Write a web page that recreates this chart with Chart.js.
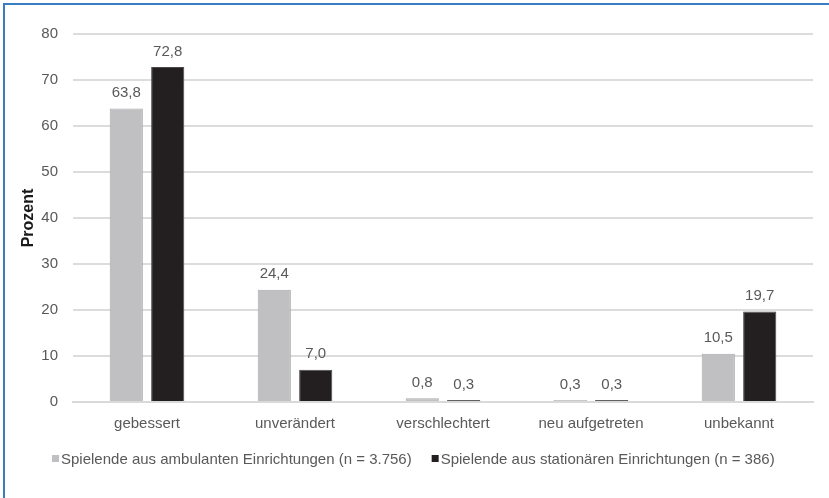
<!DOCTYPE html>
<html>
<head>
<meta charset="utf-8">
<script src="https://cdn.jsdelivr.net/npm/chart.js@4/dist/chart.umd.min.js"></script>
<style>
  html, body { margin: 0; padding: 0; background: #fff; }
  #rahmen {
    position: absolute; left: 0; top: 0; width: 829px; height: 498px;
  }
  #linie {
    position: absolute; left: 3px; top: 3px; width: 826px; height: 495px;
    border-top: 2px solid #3b7dc1; border-left: 2px solid #3b7dc1;
    box-sizing: border-box; pointer-events: none;
  }
  canvas { display: block; }
</style>
</head>
<body>
<div id="rahmen">
  <canvas id="grafik" width="829" height="498"></canvas>
  <div id="linie"></div>
</div>
<script>
// Kategorien und Werte (Prozent)
const kategorien = ["gebessert", "unverändert", "verschlechtert", "neu aufgetreten", "unbekannt"]
const ambulant = [63.8, 24.4, 0.8, 0.3, 10.5]
const stationaer = [72.8, 7.0, 0.3, 0.3, 19.7]
const legendeAmbulant = "Spielende aus ambulanten Einrichtungen (n = 3.756)"
const legendeStationaer = "Spielende aus stationären Einrichtungen (n = 386)"
const yTicks = [0, 10, 20, 30, 40, 50, 60, 70, 80]

const schrift = "'Liberation Sans', Arial, sans-serif"
const grau = "#595959"

// Werte über den Balken schreiben (mit Komma)
const werteBeschriftung = {
  id: "werteBeschriftung",
  afterDatasetsDraw(chart) {
    const ctx = chart.ctx
    ctx.save()
    ctx.font = "15px " + schrift
    ctx.fillStyle = grau
    ctx.textAlign = "center"
    ctx.textBaseline = "bottom"
    chart.data.datasets.forEach((ds, i) => {
      chart.getDatasetMeta(i).data.forEach((bar, j) => {
        ctx.fillText(ds.data[j].toFixed(1).replace(".", ","), bar.x, bar.y - 8)
      })
    })
    ctx.restore()
  }
}

// Legende unten links: kleines Quadrat, direkt daneben der Text
const legendeUnten = {
  id: "legendeUnten",
  afterDraw(chart) {
    const ctx = chart.ctx
    ctx.save()
    ctx.font = "15px " + schrift
    ctx.textBaseline = "middle"
    let x = 52
    const y = 459
    chart.data.datasets.forEach(ds => {
      ctx.fillStyle = ds.backgroundColor
      ctx.fillRect(x, y - 4, 7, 7)
      ctx.fillStyle = grau
      ctx.fillText(ds.label, x + 9, y + 1)
      x += 9 + ctx.measureText(ds.label).width + 20
    })
    ctx.restore()
  }
}

new Chart(document.getElementById("grafik"), {
  type: "bar",
  data: {
    labels: kategorien,
    datasets: [
      {
        label: legendeAmbulant,
        data: ambulant,
        backgroundColor: "#c0c0c2",
        borderColor: "#a9a9ab",
        borderWidth: 1,
        minBarLength: 2,
        barPercentage: 0.8,
        categoryPercentage: 0.56
      },
      {
        label: legendeStationaer,
        data: stationaer,
        backgroundColor: "#231f20",
        borderColor: "#4a4a4a",
        borderWidth: 1,
        minBarLength: 2,
        barPercentage: 0.8,
        categoryPercentage: 0.56
      }
    ]
  },
  options: {
    responsive: false,
    animation: false,
    layout: { padding: { top: 34, left: 14, right: 16, bottom: 56 } },
    plugins: {
      tooltip: { enabled: false },
      legend: { display: false }
    },
    scales: {
      x: {
        grid: { display: false },
        border: { color: "#d9d9d9", width: 2 },
        ticks: { color: grau, font: { family: schrift, size: 15 }, padding: 5 },
        afterFit(s) { s.height = 40 }
      },
      y: {
        min: 0,
        max: 80,
        afterBuildTicks(s) { s.ticks = yTicks.map(v => ({ value: v })) },
        grid: { color: "#dcdcdc", lineWidth: 2, drawTicks: false },
        border: { display: false },
        ticks: { color: grau, font: { family: schrift, size: 15 }, padding: 15 },
        title: {
          display: true,
          text: "Prozent",
          color: "#1a1a1a",
          font: { family: schrift, size: 16, weight: "bold" },
          padding: { top: 5, bottom: 4 }
        },
        afterFit(s) { s.width = 59 }
      }
    }
  },
  plugins: [werteBeschriftung, legendeUnten]
})
</script>
</body>
</html>
